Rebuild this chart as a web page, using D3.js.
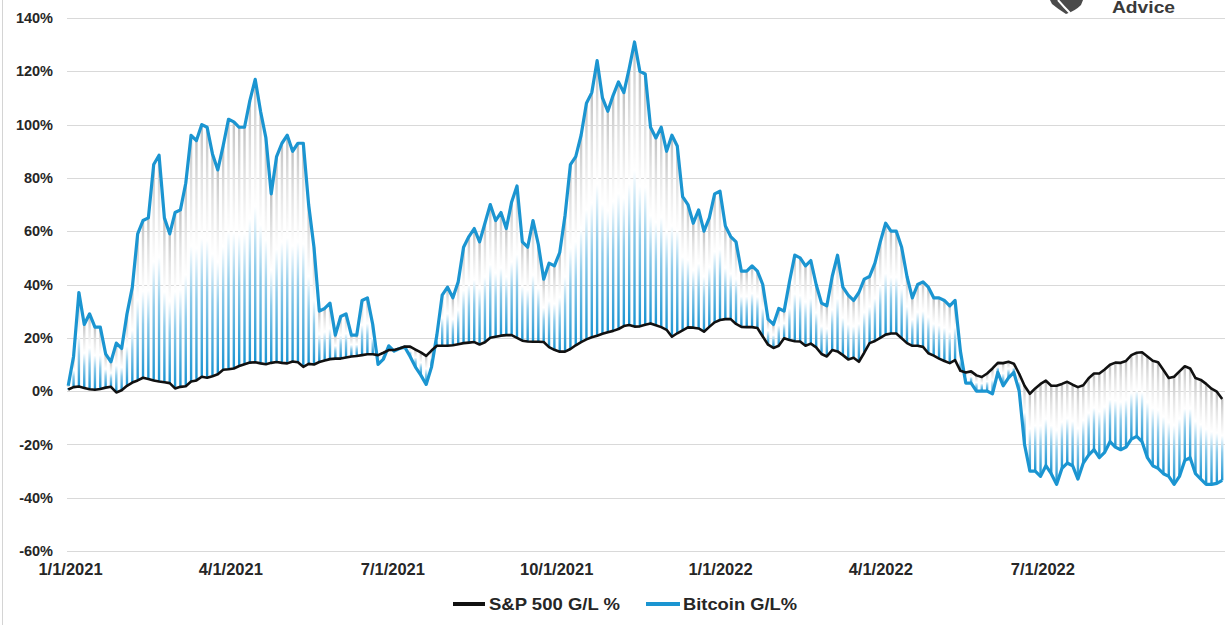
<!DOCTYPE html>
<html><head><meta charset="utf-8">
<script src="https://cdn.jsdelivr.net/npm/d3@7"></script>
<style>
body{margin:0;background:#fff}
svg{display:block}
text{font-family:"Liberation Sans",Arial,sans-serif;font-weight:bold;fill:#262626}
</style>
</head><body>
<svg id="chart" width="1225" height="625"></svg>
<script>
// ---- data (G/L % since 12/31/2020, one reading every 3 days) ----
const startDate = "2020-12-31";
const stepDays = 3;
const sp500 = [
  0.6, 1.5, 1.7, 1.2, 0.7, 0.5, 0.8, 1.3, 1.6, -0.5,
  0.3, 2, 3.2, 4, 5, 4.5, 4, 3.6, 3.3, 3,
  1, 1.6, 1.8, 3.6, 4, 5.4, 5, 5.6, 6.3, 8,
  8.2, 8.5, 9.4, 10.1, 10.7, 10.8, 10.4, 10.1, 10.6, 10.9,
  10.6, 10.4, 11.1, 10.8, 9.1, 10.2, 10, 10.9, 11.5, 12,
  12.2, 12.2, 12.6, 13, 13.2, 13.5, 13.8, 13.8, 13.5, 14.4,
  15.4, 15.4, 16, 16.7, 16.7, 15.6, 14.5, 13.2, 15.2, 17,
  17, 17, 17.2, 17.6, 18, 18.2, 18.4, 17.5, 18.3, 20,
  20.4, 20.8, 21, 21, 20, 18.9, 18.6, 18.5, 18.5, 18.4,
  16.5, 15.5, 14.8, 14.8, 15.8, 17.2, 18.4, 19.4, 20.2, 20.8,
  21.5, 22.1, 22.6, 23.3, 24.4, 24.8, 24.2, 24.3, 24.9, 25.4,
  24.7, 24, 23, 20.4, 21.7, 22.8, 23.9, 23.8, 23.5, 22.3,
  24.1, 25.8, 26.7, 27, 27, 25.2, 24.1, 24, 24, 23.7,
  20.5, 17.4, 16.2, 17, 19.8, 19.2, 18.7, 18.6, 17, 17.8,
  16.4, 13.9, 13, 15.4, 14.9, 13.5, 11.9, 12.5, 11, 14.4,
  18, 18.8, 20, 21.2, 21.6, 21.6, 19.8, 18, 17, 17,
  16.6, 14.2, 13.3, 12.2, 11.3, 10.5, 11.6, 7.6, 7, 7.4,
  5.9, 5.3, 6.6, 8.5, 10.6, 10.5, 11, 10.3, 6.5, 2,
  -1, 1, 2.7, 3.9, 2, 2, 2.7, 3.5, 2.4, 1.5,
  2.2, 4.8, 6.6, 6.6, 8.1, 9.9, 10.7, 10.6, 11.3, 13.5,
  14.4, 14.6, 13, 11.4, 10.8, 7.9, 4.9, 5.4, 7.4, 9.3,
  8.5, 4.9, 4.2, 2.7, 0.9, -0.2, -3
];
const bitcoin = [
  2, 13, 37, 25, 29, 24, 24, 14, 11, 18,
  16, 29, 39, 59, 64, 65, 85, 88.5, 65, 59,
  67, 68, 78, 96, 94, 100, 99, 89, 83, 92,
  102, 101, 99, 99, 109, 117, 105, 95, 74, 88,
  93, 96, 90, 93, 93, 70, 54, 30, 31, 33,
  21, 28, 29, 21, 21, 34, 35, 25, 10, 12,
  17, 15, 16, 16.5, 13, 9, 6, 2.5, 9, 21,
  36, 39, 35, 41, 54, 58, 61, 56, 63, 70,
  64, 67, 61, 71, 77, 56, 54, 64, 55, 42,
  48, 47, 52, 66, 85, 88, 96, 108, 112, 124,
  110, 105, 111, 116, 112, 121, 131, 120, 119, 99,
  95, 99, 90, 96, 92, 73, 70, 63, 68, 60,
  65, 74, 75, 62, 58, 56, 45, 45, 47, 45,
  40, 27, 25, 31, 30, 41, 51, 50, 47, 49,
  40, 33, 32, 43, 51, 39, 36, 34, 37, 42,
  43, 48, 56, 63, 60, 60, 54, 43, 35, 40,
  41, 39, 35, 35, 34, 32, 34, 15, 3, 3,
  0, 0, 0, -1, 7, 2, 5, 7, 0, -20,
  -30, -30, -32, -28, -31, -35, -29, -27, -28, -33,
  -27, -24, -22, -25, -23, -19, -21, -22, -21, -18,
  -17, -19, -25, -28, -29, -31, -32, -35, -32, -26,
  -25, -31, -33, -35, -35, -34.6, -33.5
];
const xTickDates = ["2021-01-01","2021-04-01","2021-07-01","2021-10-01","2022-01-01","2022-04-01","2022-07-01"];
const yTickValues = [-60, -40, -20, 0, 20, 40, 60, 80, 100, 120, 140];
const seriesNames = ["S&P 500 G/L %", "Bitcoin G/L%"];
const seriesColors = ["#111111", "#1b95d1"];

// ---- build ----
const parse = d3.timeParse("%Y-%m-%d");
const t0 = parse(startDate);
const n = Math.min(sp500.length, bitcoin.length);
const rows = d3.range(n).map(i => ({date: d3.timeDay.offset(t0, i * stepDays), sp: sp500[i], btc: bitcoin[i]}));

const svg = d3.select("#chart");
const x = d3.scaleTime().domain([parse("2021-01-01"), parse("2022-01-01")]).range([70, 720]);
const y = d3.scaleLinear().domain([-60, 140]).range([551, 18]);

const defs = svg.append("defs");
const grad = defs.append("linearGradient").attr("id", "hl").attr("x1", 0).attr("y1", 0).attr("x2", 0).attr("y2", 1);
[[0, "#c2c2c2"], [0.2, "#e2e2e2"], [0.45, "#ffffff"], [0.66, "#8ecbea"], [1, "#1a94d2"]]
  .forEach(([o, c]) => grad.append("stop").attr("offset", o).attr("stop-color", c));

// frame edge
svg.append("line").attr("x1", 2.5).attr("x2", 2.5).attr("y1", 0).attr("y2", 625).attr("stroke", "#d4d4d4");

// gridlines
svg.append("g").selectAll("line").data(yTickValues).join("line")
  .attr("x1", 67).attr("x2", 1225)
  .attr("y1", d => Math.round(y(d)) + 0.5).attr("y2", d => Math.round(y(d)) + 0.5)
  .attr("stroke", "#d9d9d9").attr("stroke-width", 1);

// y axis labels
const yAxis = d3.axisLeft(y).tickValues(yTickValues).tickFormat(d => d + "%").tickSize(0).tickPadding(0);
const gy = svg.append("g").attr("transform", "translate(53,0)").call(yAxis);
gy.select(".domain").remove();
gy.selectAll("text").attr("font-size", 14.5).attr("font-family", null);

// x axis labels
const xAxis = d3.axisBottom(x).tickValues(xTickDates.map(parse)).tickFormat(d3.timeFormat("%-m/%-d/%Y")).tickSize(0).tickPadding(12);
const gx = svg.append("g").attr("transform", "translate(0,551)").call(xAxis);
gx.select(".domain").remove();
gx.selectAll("text").attr("font-size", 16.5).attr("font-family", null);

// high-low gradient bars
svg.append("g").selectAll("rect").data(rows).join("rect")
  .attr("x", d => x(d.date) - 1.2)
  .attr("width", 2.4)
  .attr("y", d => y(Math.max(d.sp, d.btc)))
  .attr("height", d => Math.max(0.5, Math.abs(y(d.sp) - y(d.btc))))
  .attr("fill", "url(#hl)");

// lines
const lineBtc = d3.line().x(d => x(d.date)).y(d => y(d.btc));
const lineSp = d3.line().x(d => x(d.date)).y(d => y(d.sp));
svg.append("path").datum(rows).attr("d", lineBtc).attr("fill", "none")
  .attr("stroke", seriesColors[1]).attr("stroke-width", 3.2).attr("stroke-linejoin", "round");
svg.append("path").datum(rows).attr("d", lineSp).attr("fill", "none")
  .attr("stroke", seriesColors[0]).attr("stroke-width", 2.6).attr("stroke-linejoin", "round");

// legend
const legend = svg.append("g");
const legendPos = [[453, 485, 489, 131], [646, 680, 683, 114]];
seriesNames.forEach((name, i) => {
  const [a, b, t, w] = legendPos[i];
  legend.append("line").attr("x1", a).attr("x2", b).attr("y1", 604).attr("y2", 604)
    .attr("stroke", seriesColors[i]).attr("stroke-width", 4);
  legend.append("text").attr("x", t).attr("y", 604).attr("dy", "0.36em")
    .attr("font-size", 17).attr("textLength", w).attr("lengthAdjust", "spacingAndGlyphs").text(name);
});

// logo (cropped at top)
const logo = svg.append("g");
logo.append("path").attr("d", "M1050,0 L1083,0 L1081,5 Q1075,11 1066,14 Q1058,9 1052,4 Z").attr("fill", "#4a4a4a");
logo.append("path").attr("d", "M1058,0 Q1064,7 1070,13").attr("stroke", "#fff").attr("stroke-width", 2).attr("fill", "none");
logo.append("text").attr("x", 1112).attr("y", 12.5).attr("font-size", 16)
  .attr("textLength", 63).attr("lengthAdjust", "spacingAndGlyphs")
  .style("fill", "#3a3a3a").text("Advice");
</script>
</body></html>
